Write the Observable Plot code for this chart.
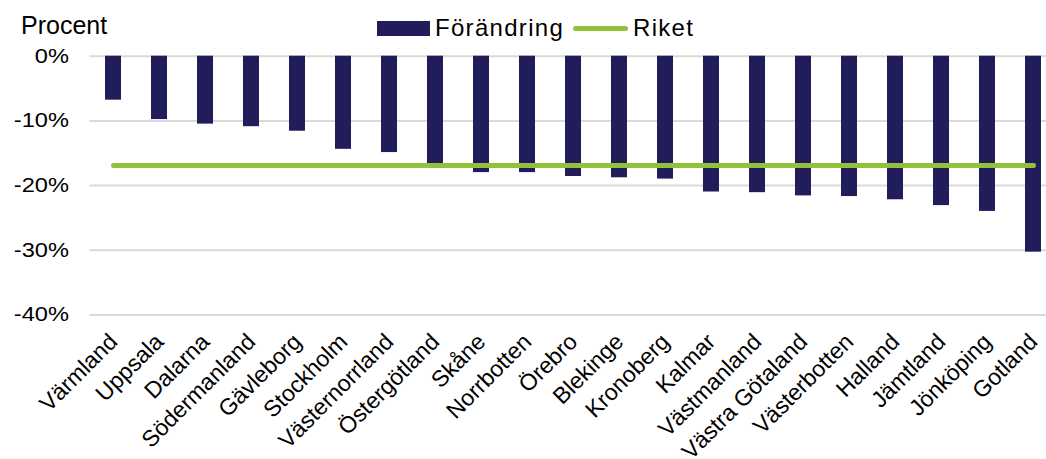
<!DOCTYPE html>
<html><head><meta charset="utf-8">
<script src="https://cdn.jsdelivr.net/npm/d3@7"></script>
<script src="https://cdn.jsdelivr.net/npm/@observablehq/plot@0.6"></script>
<style>
body{margin:0;background:#fff;font-family:"Liberation Sans",Arial,sans-serif;color:#000}
#wrap{width:1046px;height:459px;overflow:hidden;position:relative}
#head{position:relative;height:26px}
#head div{position:absolute;line-height:1;white-space:nowrap}
.procent{left:21px;top:13px;font-size:25px}
.lt{font-size:24px;top:16.4px;letter-spacing:1.3px}
.sw1{left:377px;top:21px;width:53px;height:15px;background:#211d5a}
.sw2{left:573px;top:25.5px;width:55px;height:5px;border-radius:2.5px;background:#93c13c}
#chart svg{display:block}
</style></head>
<body>
<div id="wrap">
  <div id="head">
    <div class="procent">Procent</div>
    <div class="sw1"></div>
    <div class="lt" style="left:435px">Förändring</div>
    <div class="sw2"></div>
    <div class="lt" style="left:633px">Riket</div>
  </div>
  <div id="chart"></div>
</div>
<script>
const regions = ["Värmland","Uppsala","Dalarna","Södermanland","Gävleborg","Stockholm","Västernorrland","Östergötland","Skåne","Norrbotten","Örebro","Blekinge","Kronoberg","Kalmar","Västmanland","Västra Götaland","Västerbotten","Halland","Jämtland","Jönköping","Gotland"];
const forandring = [-6.8,-9.8,-10.5,-10.9,-11.6,-14.4,-14.9,-16.6,-18.0,-18.0,-18.6,-18.8,-19.0,-21.0,-21.1,-21.6,-21.7,-22.2,-23.1,-24.0,-30.3];
const riket = -16.9;
const yTicks = [0,-10,-20,-30,-40];

const bars = regions.map((r,i)=>({region:r, value:forandring[i]}));
const riketLine = [{region:regions[0], value:riket},{region:regions[regions.length-1], value:riket}];

const chart = Plot.plot({
  width:1046, height:433,
  marginTop:29.7, marginBottom:144.6, marginLeft:89.4, marginRight:0,
  style:{fontFamily:"'Liberation Sans', Arial, sans-serif", color:"#000", background:"transparent"},
  x:{domain:regions, range:[89.45,1057.55], paddingInner:0.644, paddingOuter:0.322},
  y:{domain:[-40,0]},
  marks:[
    Plot.gridY(yTicks,{stroke:"#d9d9d9", strokeOpacity:1, strokeWidth:2}),
    Plot.barY(bars,{x:"region", y:"value", fill:"#211d5a"}),
    Plot.line(riketLine,{x:"region", y:"value", stroke:"#93c13c", strokeWidth:5, strokeLinecap:"round"}),
    Plot.axisY(yTicks,{tickSize:0, tickPadding:21, tickFormat:d=>`${d}%`, fontSize:20, label:null}),
    Plot.axisX({tickRotate:-45, tickSize:0, tickPadding:23, fontSize:23, label:null})
  ]
});
document.getElementById("chart").appendChild(chart);
d3.select(chart).selectAll('g[aria-label="y-axis tick label"] text').each(function(){
  const t = d3.select(this);
  t.attr("transform", (t.attr("transform")||"") + " scale(1.18,1)");
});
d3.select(chart).selectAll('g[aria-label="x-axis tick label"]').attr("font-size", 23);
</script>
</body></html>
